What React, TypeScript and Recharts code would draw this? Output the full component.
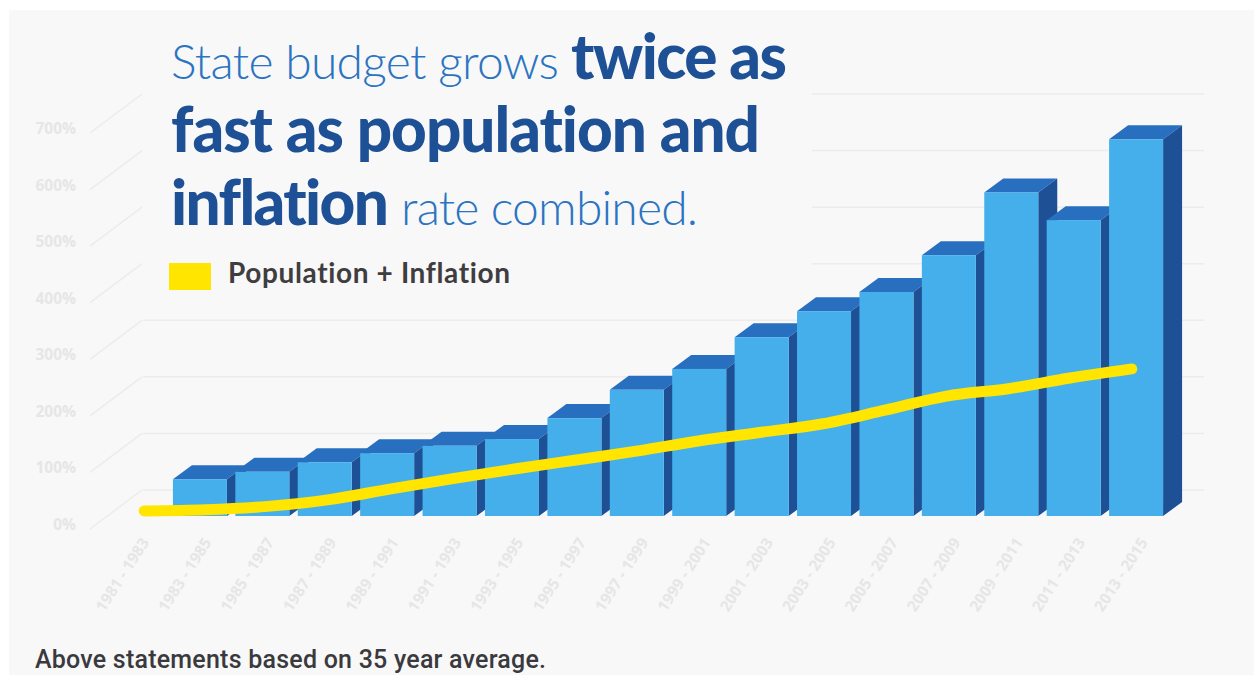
import React from "react";
import { ComposedChart, Bar, Line, XAxis, YAxis } from "recharts";

const periods = ["1981 - 1983","1983 - 1985","1985 - 1987","1987 - 1989","1989 - 1991","1991 - 1993","1993 - 1995","1995 - 1997","1997 - 1999","1999 - 2001","2001 - 2003","2003 - 2005","2005 - 2007","2007 - 2009","2009 - 2011","2011 - 2013","2013 - 2015"];
const budget = [null,65,78,95,111,124,136,173,223,260,316,362,396,461,572,523,666];
const popInflation = [9,11,17,29,48,66,83,99,115,133,148,163,187,212,225,244,260];
const yTicks = [0,100,200,300,400,500,600,700];
const valueDomain = [-23, 700];

const rows = periods.map((period, i) => ({ period, budget: budget[i], popInflation: popInflation[i] }));

const PANEL = "#f8f8f8";
const GRID = "#ececec";
const TICK = "#e6e6e6";
const FRONT = "#45afec";
const TOP = "#2870bf";
const SIDE = "#1d5095";
const YELLOW = "#ffe500";
const DX = 19;
const DY = 14;
const chartMargin = { top: 120, bottom: 0, left: 105.5, right: 86.5 };

const noLig = { fontVariantLigatures: "none" } as React.CSSProperties;

function Box3D(props: any) {
  const { x, y, width, height, value } = props;
  if (value == null || !height) return null;
  const r = x + width;
  const b = y + height;
  return (
    <g>
      <polygon points={`${x},${y} ${x + DX},${y - DY} ${r + DX},${y - DY} ${r},${y}`} fill={TOP} />
      <polygon points={`${r},${y} ${r + DX},${y - DY} ${r + DX},${b - DY} ${r},${b}`} fill={SIDE} />
      <rect x={x} y={y} width={width} height={height} fill={FRONT} />
    </g>
  );
}

function YTick(props: any) {
  const { y: barY, payload } = props;
  const y = barY + 13;
  const startX = payload.value >= 400 ? 812 : 143;
  return (
    <g>
      <path d={`M90,${y} L142,${y - 39}`} stroke={GRID} strokeWidth={1.5} fill="none" />
      <path d={`M${startX},${y - 39} H1204`} stroke={GRID} strokeWidth={1.5} fill="none" />
      <text x={76} y={y - 5} textAnchor="end" dominantBaseline="central" fontFamily="'Open Sans'" fontWeight={700} fontSize={15.5} fill={TICK}>
        {`${payload.value}%`}
      </text>
    </g>
  );
}

function XTick(props: any) {
  const { x, y, payload } = props;
  return (
    <text
      transform={`translate(${x + 7},${y + 2}) rotate(-57)`}
      textAnchor="end"
      dominantBaseline="central"
      fontFamily="'Open Sans'"
      fontWeight={700}
      fontSize={15.5}
      fill={TICK}
    >
      {payload.value}
    </text>
  );
}

export default function App() {
  return (
    <div style={{ position: "absolute", left: 0, top: 0, width: 1254, height: 675, background: "#fff", overflow: "hidden" }}>
      <div style={{ position: "absolute", left: 9, top: 10, width: 1245, height: 665, background: PANEL }} />
      <div style={{ position: "absolute", left: 0, top: 0 }}>
        <ComposedChart width={1254} height={675} data={rows} margin={chartMargin} barCategoryGap={0}>
          <XAxis dataKey="period" height={146} interval={0} axisLine={false} tickLine={false} tick={<XTick />} />
          <YAxis width={1} domain={valueDomain} ticks={yTicks} interval={0} axisLine={false} tickLine={false} tick={<YTick />} />
          <Bar dataKey="budget" barSize={54} shape={() => null} isAnimationActive={false} />
        </ComposedChart>
      </div>
      <div style={{ position: "absolute", left: 0, top: 0 }}>
        <ComposedChart width={1254} height={675} data={rows} margin={chartMargin} barCategoryGap={0}>
          <XAxis dataKey="period" height={146} interval={0} axisLine={false} tickLine={false} tick={false} />
          <XAxis xAxisId="line" dataKey="period" hide padding={{ left: 6.85, right: 4.85 }} />
          <YAxis width={1} domain={valueDomain} ticks={yTicks} interval={0} axisLine={false} tickLine={false} tick={false} />
          <Bar dataKey="budget" barSize={54} shape={<Box3D />} isAnimationActive={false} />
          <Line xAxisId="line" dataKey="popInflation" type="monotone" stroke={YELLOW} strokeWidth={11} strokeLinecap="round" dot={false} activeDot={false} isAnimationActive={false} />
        </ComposedChart>
      </div>
      <svg width={1254} height={675} style={{ position: "absolute", left: 0, top: 0 }}>
        <text x={171} y={79} style={noLig} fontFamily="Lato" fontWeight={300} fontSize={48} fill="#2b74c2" textLength={388} lengthAdjust="spacing">State budget grows</text>
        <text x={571} y={79} style={noLig} fontFamily="Lato" fontWeight={900} fontSize={62} fill={SIDE} textLength={216} lengthAdjust="spacing">twice as</text>
        <text x={171} y={152} style={noLig} fontFamily="Lato" fontWeight={900} fontSize={62} fill={SIDE} textLength={589} lengthAdjust="spacing">fast as population and</text>
        <text x={171} y={225} style={noLig} fontFamily="Lato" fontWeight={900} fontSize={62} fill={SIDE} textLength={218} lengthAdjust="spacing">inflation</text>
        <text x={401} y={225} style={noLig} fontFamily="Lato" fontWeight={300} fontSize={48} fill="#2b74c2" textLength={297} lengthAdjust="spacing">rate combined.</text>
        <rect x={169} y={263} width={42} height={27} fill={YELLOW} />
        <text x={228} y={283} style={noLig} fontFamily="Lato" fontWeight={700} fontSize={28} fill="#3f3d40" textLength={282} lengthAdjust="spacing">Population + Inflation</text>
        <text x={35} y={668} fontFamily="Roboto" fontWeight={500} fontSize={25} fill="#3a3a3e" textLength={511} lengthAdjust="spacing">Above statements based on 35 year average.</text>
      </svg>
    </div>
  );
}
